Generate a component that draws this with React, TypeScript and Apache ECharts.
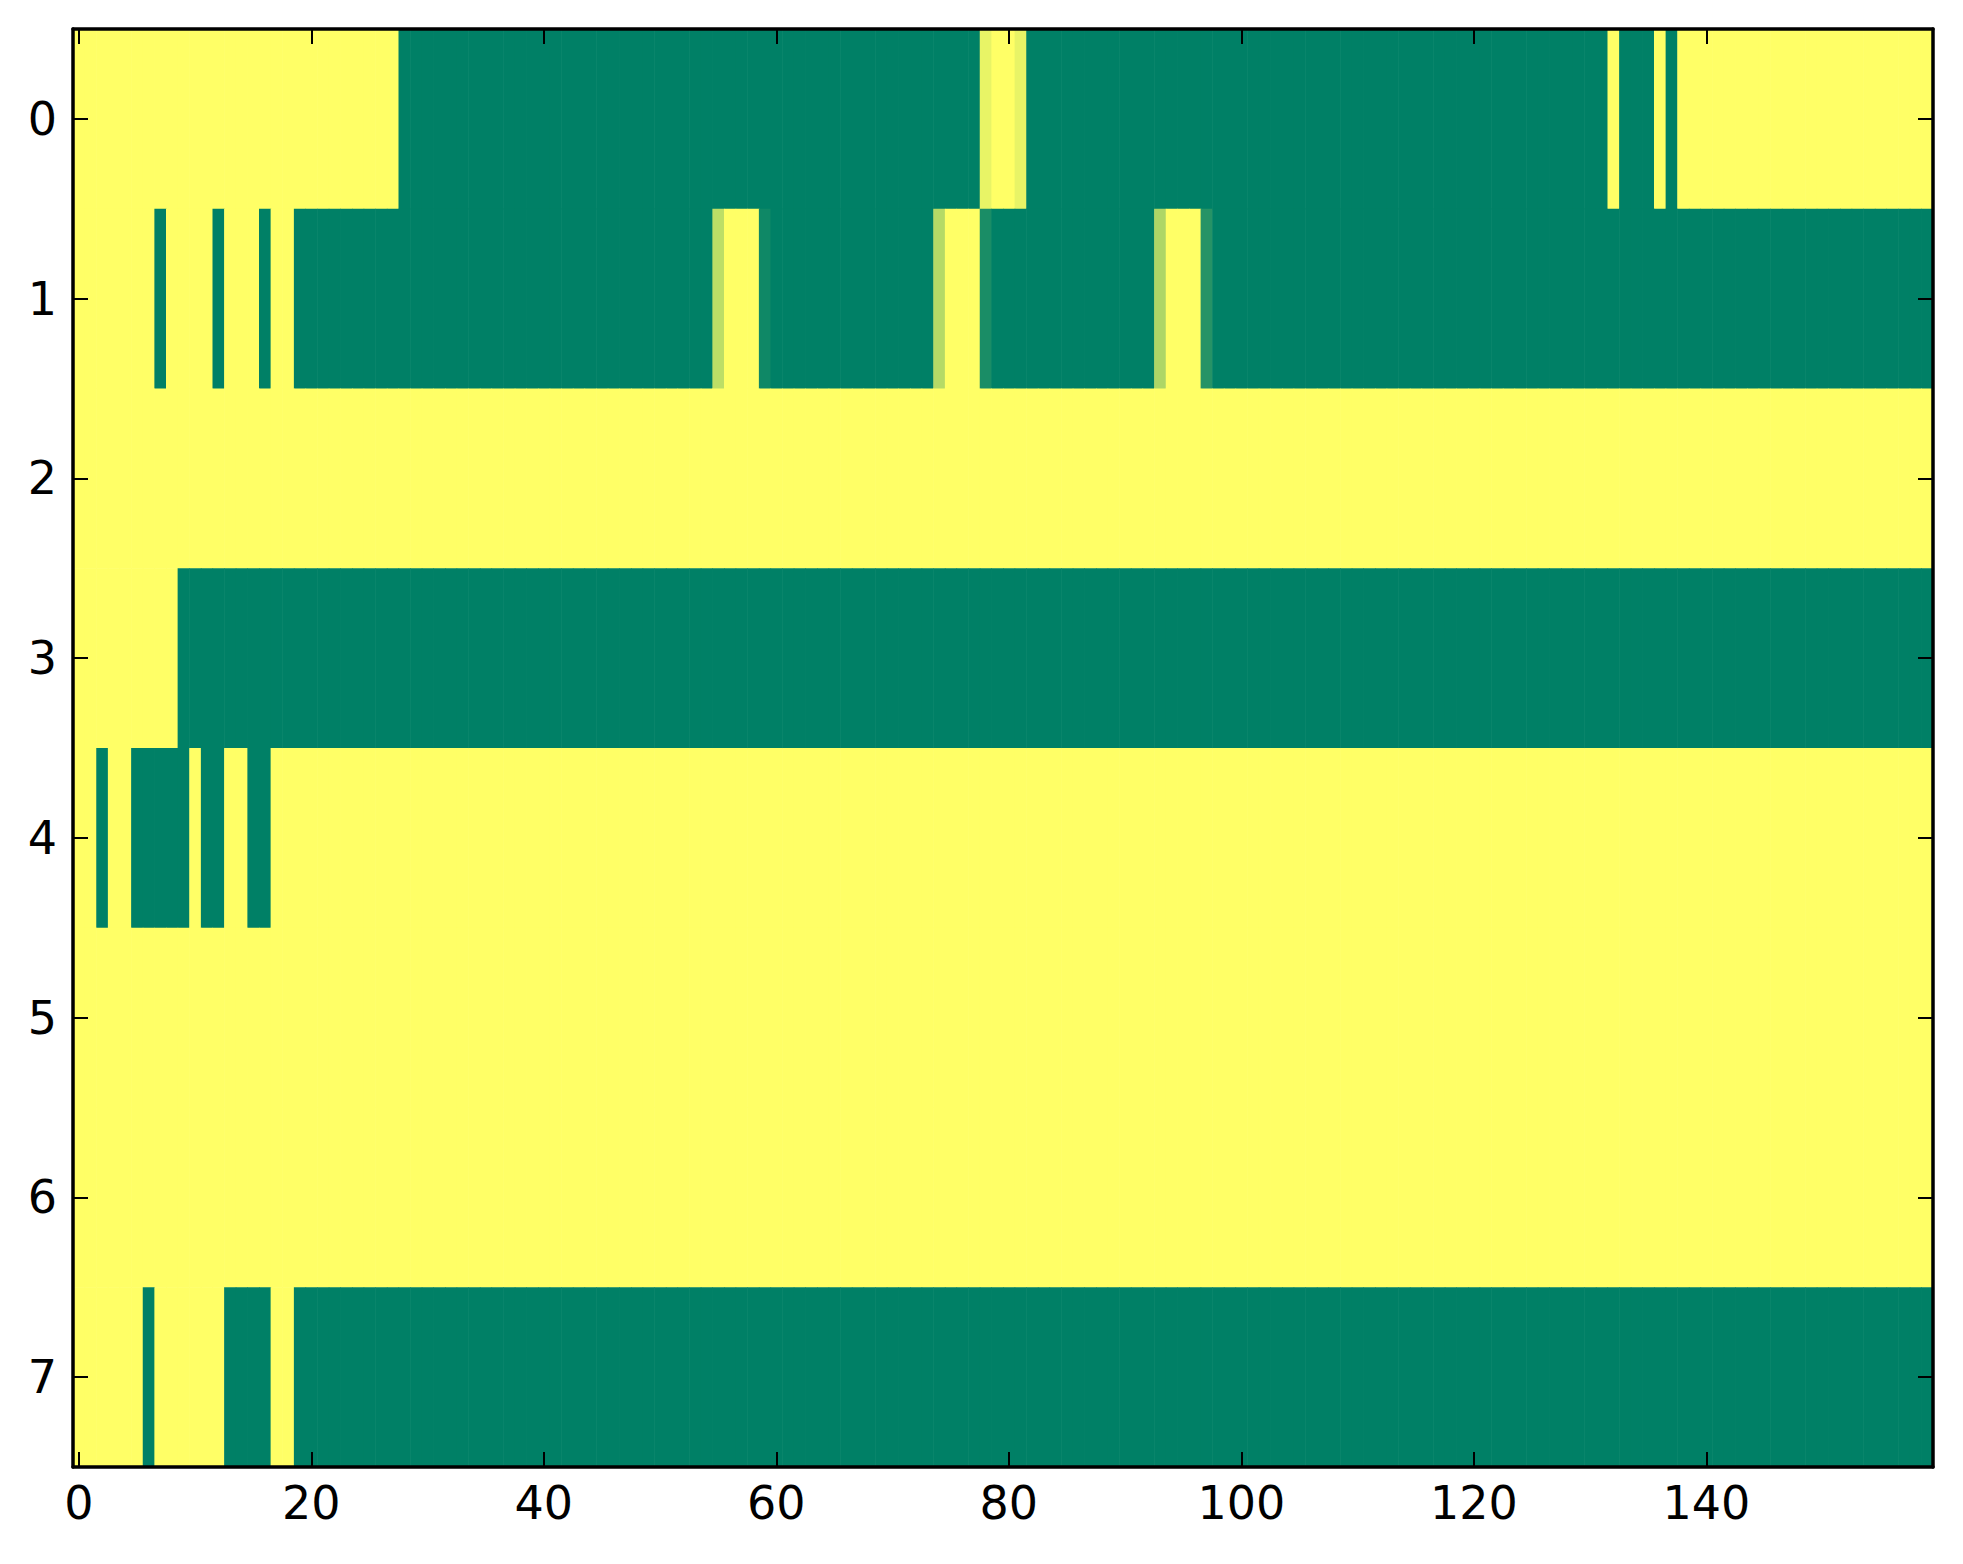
import React, { useEffect, useRef } from "react";
import * as echarts from "echarts";

// Column indices 0..159, row indices 0..7
const NCOLS = 160;
const rowLabels = ["0", "1", "2", "3", "4", "5", "6", "7"];
const xTickLabels = ["0", "20", "40", "60", "80", "100", "120", "140"];

// Each row as runs of [value, number of consecutive columns]
const row0: [number, number][] = [[1, 28], [0, 50], [0.91, 1], [1, 2], [0.91, 1], [0, 50], [1, 1], [0, 3], [1, 1], [0, 1], [1, 22]];
const row1: [number, number][] = [[1, 7], [0, 1], [1, 4], [0, 1], [1, 3], [0, 1], [1, 2], [0, 36], [0.74, 1], [1, 3], [0.06, 1], [0, 14], [0.71, 1], [1, 3], [0.1, 1], [0, 14], [0.68, 1], [1, 3], [0.15, 1], [0, 62]];
const row2: [number, number][] = [[1, 160]];
const row3: [number, number][] = [[1, 9], [0, 151]];
const row4: [number, number][] = [[1, 2], [0, 1], [1, 2], [0, 5], [1, 1], [0, 2], [1, 2], [0, 2], [1, 143]];
const row5: [number, number][] = [[1, 160]];
const row6: [number, number][] = [[1, 160]];
const row7: [number, number][] = [[1, 6], [0, 1], [1, 6], [0, 4], [1, 2], [0, 141]];

const rows = [row0, row1, row2, row3, row4, row5, row6, row7];

function expand(runs: [number, number][]): number[] {
  const out: number[] = [];
  runs.forEach(([v, n]) => {
    for (let i = 0; i < n; i++) out.push(v);
  });
  return out;
}

// matplotlib "summer" colormap
function summer(v: number): string {
  const r = Math.round(255 * v);
  const g = Math.round(128 + 127 * v);
  return `rgb(${r},${g},102)`;
}

export default function App() {
  const ref = useRef<HTMLDivElement>(null);
  useEffect(() => {
    if (!ref.current) return;
    const chart = echarts.init(ref.current, undefined, { renderer: "svg" });
    const cats = Array.from({ length: NCOLS }, (_, i) => String(i));
    const data: number[][] = [];
    rows.forEach((runs, r) => {
      expand(runs).forEach((v, c) => data.push([c, r, v]));
    });
    const showIdx = (i: number) => i % 20 === 0 && xTickLabels.includes(String(i));
    const font = { fontFamily: "DejaVu Sans", fontSize: 46, color: "#000" };
    const axisLine = { show: true, onZero: false, lineStyle: { color: "#000", width: 3.5 } };
    const tick = { show: true, inside: true, length: 15, lineStyle: { color: "#000", width: 2 } };
    chart.setOption({
      animation: false,
      backgroundColor: "#fff",
      grid: { left: 73, right: 30, top: 29, bottom: 97, containLabel: false },
      xAxis: [
        {
          type: "category",
          data: cats,
          position: "bottom",
          z: 10,
          axisLine,
          axisTick: { ...tick, alignWithLabel: true, interval: (i: number) => showIdx(i) },
          axisLabel: { ...font, margin: 13, interval: (i: number) => showIdx(i) },
          splitLine: { show: false },
        },
        {
          type: "category",
          data: cats,
          position: "top",
          z: 10,
          axisLine,
          axisTick: { ...tick, alignWithLabel: true, interval: (i: number) => showIdx(i) },
          axisLabel: { show: false },
          splitLine: { show: false },
        },
      ],
      yAxis: [
        {
          type: "category",
          data: rowLabels,
          inverse: true,
          position: "left",
          z: 10,
          axisLine,
          axisTick: { ...tick, alignWithLabel: true },
          axisLabel: { ...font, margin: 16 },
          splitLine: { show: false },
        },
        {
          type: "category",
          data: rowLabels,
          inverse: true,
          position: "right",
          z: 10,
          axisLine,
          axisTick: { ...tick, alignWithLabel: true },
          axisLabel: { show: false },
          splitLine: { show: false },
        },
      ],
      series: [
        {
          type: "custom",
          xAxisIndex: 0,
          yAxisIndex: 0,
          clip: true,
          encode: { x: 0, y: 1 },
          data,
          z: 1,
          renderItem: (params: any, api: any) => {
            const c = api.coord([api.value(0), api.value(1)]);
            const s = api.size([1, 1]);
            const v = api.value(2);
            return {
              type: "rect",
              shape: { x: c[0] - s[0] / 2, y: c[1] - s[1] / 2, width: s[0] + 0.6, height: s[1] + 0.6 },
              style: { fill: summer(v), stroke: null },
            };
          },
        },
      ],
    });
    return () => chart.dispose();
  }, []);
  return (
    <div
      ref={ref}
      style={{ position: "fixed", left: 0, top: 0, width: 1963, height: 1564, background: "#fff" }}
    />
  );
}
